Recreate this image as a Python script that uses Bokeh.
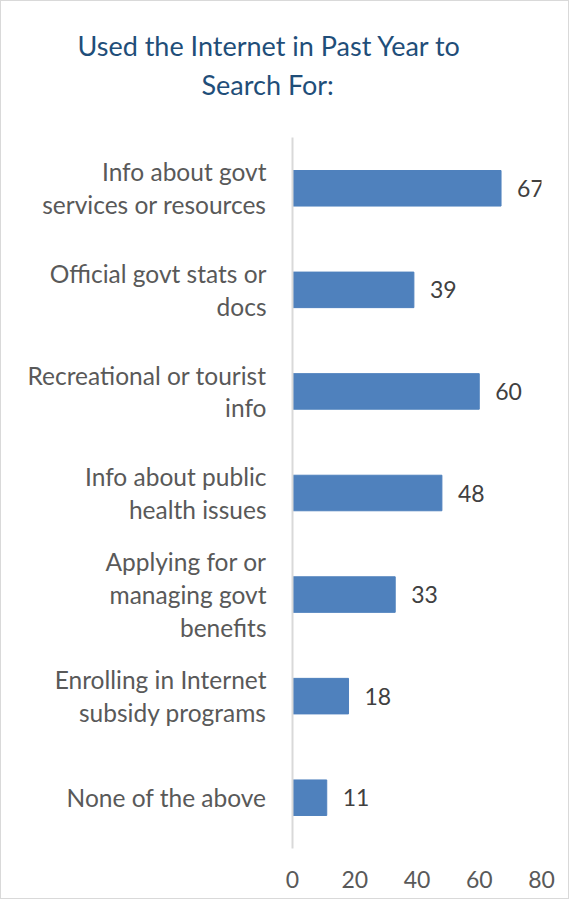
from bokeh.plotting import figure
from bokeh.models import FixedTicker, ColumnDataSource, Title
from bokeh.core.properties import value
from bokeh.embed import file_html
from bokeh.resources import INLINE

categories = [
    "Info about govt\nservices or resources",
    "Official govt stats or\ndocs",
    "Recreational or tourist\ninfo",
    "Info about public\nhealth issues",
    "Applying for or\nmanaging govt\nbenefits",
    "Enrolling in Internet\nsubsidy programs",
    "None of the above",
]
values = [67, 39, 60, 48, 33, 18, 11]
x_ticks = [0, 20, 40, 60, 80]
title_lines = ["Used the Internet in Past Year to", "Search For:"]

FONT = "Lato"
src = ColumnDataSource(dict(cat=categories, val=values, lab=[str(v) for v in values]))

p = figure(width=569, height=899, y_range=list(reversed(categories)), x_range=(0, 80),
           output_backend="svg", toolbar_location=None,
           min_border_left=291, min_border_right=29, min_border_top=136, min_border_bottom=52)
p.styles = {"border": "1px solid #d9d9d9"}
p.title.visible = False

p.hbar(y="cat", right="val", left=0, height=0.35, source=src, color="#4F81BD")
p.text(x="val", y="cat", text="lab", source=src, x_offset=16, text_baseline="middle",
       text_align="left", text_font=value(FONT), text_font_size="23px", text_color="#404040")

# spacer between title and plot area
p.add_layout(Title(text=" ", text_font=FONT, text_font_size="22px", standoff=6), "above")

offsets = [-215, -91]
for line, off in reversed(list(zip(title_lines, offsets))):
    t = Title(text=line, align="left", offset=off, text_font=FONT, text_font_size="27px",
              text_font_style="normal", text_color="#1F4E79", standoff=4)
    p.add_layout(t, "above")

p.grid.visible = False
p.outline_line_color = None

xa = p.xaxis[0]
xa.ticker = FixedTicker(ticks=x_ticks)
xa.axis_line_color = None
xa.major_tick_line_color = None
xa.minor_tick_line_color = None
xa.major_tick_out = 0
xa.major_tick_in = 0
xa.major_label_text_font = FONT
xa.major_label_text_font_size = "23px"
xa.major_label_text_color = "#595959"
xa.major_label_standoff = 22

ya = p.yaxis[0]
ya.axis_line_color = "#D9D9D9"
ya.axis_line_width = 2
ya.major_tick_line_color = None
ya.minor_tick_line_color = None
ya.major_tick_out = 0
ya.major_tick_in = 0
ya.major_label_text_font = FONT
ya.major_label_text_font_size = "24.5px"
ya.major_label_text_color = "#595959"
ya.major_label_text_line_height = 1.13
ya.major_label_standoff = 26

open("out.html", "w").write(file_html(p, INLINE))
